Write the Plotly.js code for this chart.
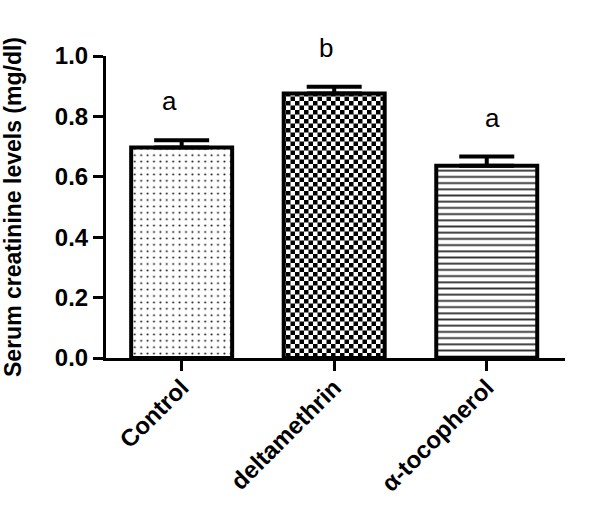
<!DOCTYPE html>
<html>
<head>
<meta charset="utf-8">
<script src="https://cdn.plot.ly/plotly-3.0.1.min.js"></script>
<style>
  html, body { margin: 0; padding: 0; background: white; }
  #chart { width: 600px; height: 521px; }
</style>
</head>
<body>
<div id="chart"></div>
<script>
// Serum creatinine, mean + SEM per group, with significance letters.
const groups  = ["Control", "deltamethrin", "α-tocopherol"];
const means   = [0.697, 0.876, 0.637];
const sems    = [0.024, 0.022, 0.030];
const letters = ["a", "b", "a"];
const yTicks  = [0, 0.2, 0.4, 0.6, 0.8, 1.0];

const FONT = "Liberation Sans, Arial, sans-serif";

// fill style per bar: dots, checkerboard (patched below), horizontal lines
const patterns = [
  { shape: ".", size: 6.4, solidity: 0.08, fgcolor: "#111" },
  { shape: "+", size: 9, solidity: 0.5, fgcolor: "#000" },
  { shape: "-", size: 6.2, solidity: 0.3, fgcolor: "#333" },
];
const CHECK = 4.5; // checkerboard square, px
const letterShift = [-12, -8, 6];

const trace = {
  type: "bar",
  x: groups.map((_, i) => i),
  y: means,
  width: 0.662,
  marker: {
    color: "#fff",
    line: { color: "#000", width: 4 },
    pattern: {
      shape: patterns.map((p) => p.shape),
      size: patterns.map((p) => p.size),
      solidity: patterns.map((p) => p.solidity),
      fgcolor: patterns.map((p) => p.fgcolor),
      bgcolor: "#fff",
      fillmode: "replace",
    },
  },
  error_y: {
    type: "data", symmetric: false,
    array: sems, arrayminus: sems.map(() => 0),
    color: "#000", thickness: 4, width: 27.5,
  },
  hoverinfo: "skip",
};

const annotations = letters.map((t, i) => ({
  x: i, y: means[i] + sems[i], xref: "x", yref: "y",
  text: t, showarrow: false, yanchor: "bottom",
  xshift: letterShift[i], yshift: 22,
  font: { family: FONT, size: 26, color: "#000" },
}));

const axisBase = {
  showline: true, linecolor: "#000", linewidth: 3,
  ticks: "outside", ticklen: 10, tickwidth: 3, tickcolor: "#000",
  showgrid: false, zeroline: false, fixedrange: true,
  tickfont: { family: FONT, size: 24, color: "#000", weight: "bold" },
};

const layout = {
  width: 600, height: 521,
  margin: { l: 106, r: 35, t: 56, b: 163 },
  paper_bgcolor: "white", plot_bgcolor: "white",
  font: { family: FONT, color: "#000" },
  showlegend: false,
  xaxis: {
    ...axisBase,
    range: [-0.496, 2.513],
    tickmode: "array", tickvals: groups.map((_, i) => i), ticktext: groups,
    tickangle: -45,
    ticklabelstandoff: -7,
  },
  yaxis: {
    ...axisBase,
    range: [0, 1],
    tickmode: "array", tickvals: yTicks, ticktext: yTicks.map((v) => v.toFixed(1)),
    title: {
      text: "Serum creatinine levels (mg/dl)",
      font: { family: FONT, size: 23, color: "#000", weight: "bold" },
      standoff: 28,
    },
  },
  annotations,
};

Plotly.newPlot("chart", [trace], layout, { displayModeBar: false, staticPlot: true }).then(() => {
  // plotly has no checkerboard shape: swap the middle bar's pattern tile
  const bar = document.querySelectorAll("#chart .bars .point path")[1];
  const fill = bar && (bar.style.fill || bar.getAttribute("fill") || "");
  const m = fill.match(/#([^"')]+)/);
  const pat = m && document.getElementById(m[1]);
  if (!pat) return;
  const s = CHECK, p = 2 * CHECK;
  pat.setAttribute("width", p);
  pat.setAttribute("height", p);
  pat.innerHTML =
    `<rect width="${p}" height="${p}" fill="#fff"/>` +
    `<path d="M0,0H${s}V${s}H0ZM${s},${s}H${p}V${p}H${s}Z" fill="#000"/>`;
});
</script>
</body>
</html>
